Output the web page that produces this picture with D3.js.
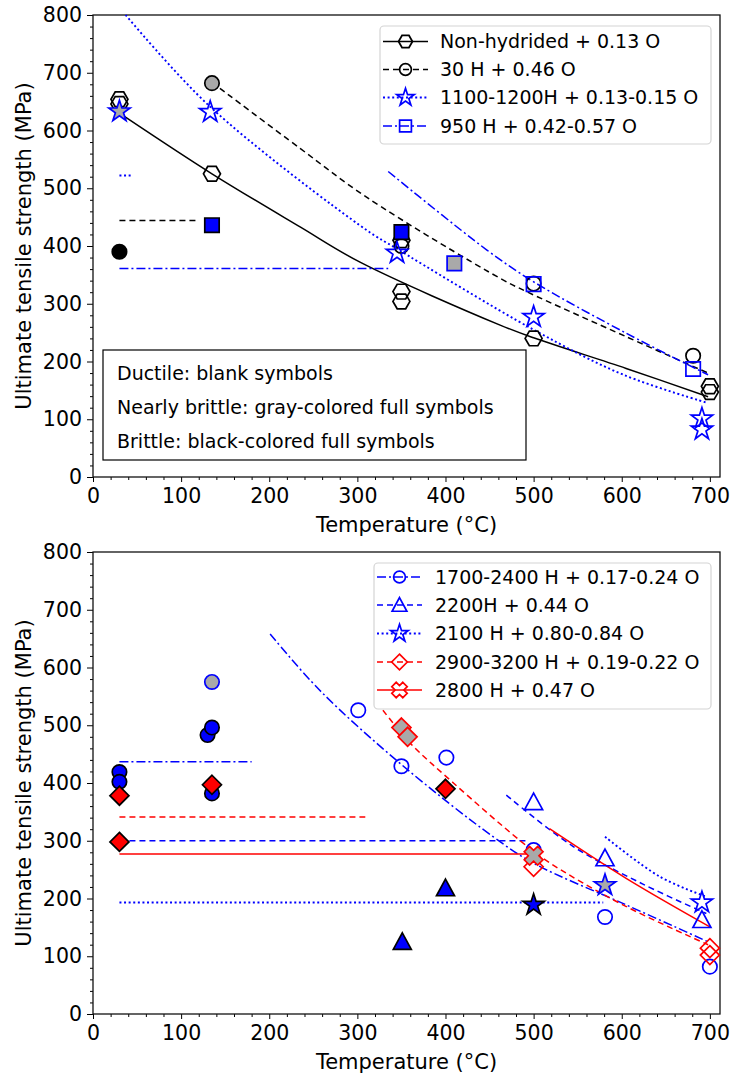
<!DOCTYPE html>
<html><head><meta charset="utf-8">
<script src="https://cdn.jsdelivr.net/npm/d3@7"></script>
<style>body{margin:0;background:#fff}svg{display:block}text{font-family:"DejaVu Sans",sans-serif;fill:#000}</style>
</head><body><svg id="c" width="730" height="1077"></svg>
<script>
// ---------------- DATA ----------------
const xTicks = [0,100,200,300,400,500,600,700];
const yTicks = [0,100,200,300,400,500,600,700,800];
const xLabel = "Temperature (°C)";
const yLabel = "Ultimate tensile strength (MPa)";

// Top panel
const topNames = ["Non-hydrided + 0.13 O","30 H + 0.46 O","1100-1200H + 0.13-0.15 O","950 H + 0.42-0.57 O"];
const nhT = [30,30,135,350,350,350,500,700,700];
const nhV = [654,646,525,410,321,304,240,157,147];
const nhState = ["d","d","d","d","d","d","d","d","d"];
const nhFitT = [36,135,235,303,462,500,605,698];
const nhFitV = [624,525,433,372,263,241,188,139];

const h30T = [30,135,350,500,681];
const h30V = [390,682,400,335,210];
const h30State = ["b","n","d","d","d"];
const h30FitT = [144,235,310,462,492,605,698];
const h30FitV = [673,569,485,344,321,243,180];
const h30Thr = [444,118];

const h1100T = [30,133,345,500,691,691];
const h1100V = [633,632,388,277,101,82];
const h1100State = ["n","d","d","d","d","d"];
const h1100FitT = [37,133,310,344,500,602,698];
const h1100FitV = [800,641,428,396,255,177,128];
const h1100Thr = [522,44];

const h950T = [135,350,410,500,681];
const h950V = [436,424,370,334,187];
const h950State = ["b","b","n","d","d"];
const h950FitT = [335,447,500,605,698];
const h950FitV = [529,393,338,249,177];
const h950Thr = [361,335];

const noteLines = ["Ductile: blank symbols","Nearly brittle: gray-colored full symbols","Brittle: black-colored full symbols"];

// Bottom panel
const botNames = ["1700-2400 H + 0.17-0.24 O","2200H + 0.44 O","2100 H + 0.80-0.84 O","2900-3200 H + 0.19-0.22 O","2800 H + 0.47 O"];
const h1700T = [30,30,130,135,135,135,301,350,401,500,581,700];
const h1700V = [419,402,483,496,575,382,526,429,444,284,168,82];
const h1700State = ["b","b","b","b","n","b","d","d","d","d","d","d"];
const h1700FitT = [201,257,350,454,500,605,698];
const h1700FitV = [658,561,432,307,261,189,125];
const h1700Thr = [437,180];

const h2200T = [351,400,500,581,691];
const h2200V = [125,218,367,270,163];
const h2200State = ["b","b","d","d","d"];
const h2200FitT = [469,545,624,696];
const h2200FitV = [379,290,225,174];
const h2200Thr = [300,492];

const h2100T = [500,581,691];
const h2100V = [189,223,193];
const h2100State = ["b","n","d"];
const h2100FitT = [581,643,696];
const h2100FitV = [307,238,203];
const h2100Thr = [193,579];

const h2900T = [30,30,135,350,357,400,500,700,700];
const h2900V = [378,298,397,496,480,390,255,114,102];
const h2900State = ["b","b","b","n","n","b","d","d","d"];
const h2900FitT = [329,360,409,484,515,600,698];
const h2900FitV = [526,469,400,301,265,190,120];
const h2900Thr = [341,309];

const h2800T = [500];
const h2800V = [274];
const h2800State = ["n"];
const h2800FitT = [518,605,700];
const h2800FitV = [321,235,151];
const h2800Thr = [277,492];

// ---------------- STYLE / LAYOUT ----------------
const BLUE="#0000ff", RED="#ff0000", BLACK="#000000", GRAY="#a9a9a9";
const DASH = {solid:null, dashed:"6,4", dotted:"2,2.6", dashdot:"9,3,2,3"};
const WIDTH = {solid:1.5, dashed:1.5, dotted:1.9, dashdot:1.5};
const mk = (name,color,marker,dash,T,V,S,fT,fV,thr)=>({name,color,marker,dash,T,V,S,fT,fV,thr});
const topSeries = [
  mk(topNames[0],BLACK,"hex","solid",nhT,nhV,nhState,nhFitT,nhFitV,null),
  mk(topNames[1],BLACK,"circle","dashed",h30T,h30V,h30State,h30FitT,h30FitV,h30Thr),
  mk(topNames[2],BLUE,"star","dotted",h1100T,h1100V,h1100State,h1100FitT,h1100FitV,h1100Thr),
  mk(topNames[3],BLUE,"square","dashdot",h950T,h950V,h950State,h950FitT,h950FitV,h950Thr)
];
const botSeries = [
  mk(botNames[0],BLUE,"circle","dashdot",h1700T,h1700V,h1700State,h1700FitT,h1700FitV,h1700Thr),
  mk(botNames[1],BLUE,"tri","dashed",h2200T,h2200V,h2200State,h2200FitT,h2200FitV,h2200Thr),
  mk(botNames[2],BLUE,"star","dotted",h2100T,h2100V,h2100State,h2100FitT,h2100FitV,h2100Thr),
  mk(botNames[3],RED,"diamond","dashed",h2900T,h2900V,h2900State,h2900FitT,h2900FitV,h2900Thr),
  mk(botNames[4],RED,"X","solid",h2800T,h2800V,h2800State,h2800FitT,h2800FitV,h2800Thr)
];

const x = d3.scaleLinear().domain([0,711.5]).range([93,720]);
const yTop = d3.scaleLinear().domain([0,800]).range([477,15]);
const yBot = d3.scaleLinear().domain([0,800]).range([1014,552]);

const svg = d3.select("#c");

function markerPath(type, r){
  const p = [];
  if(type==="hex"){ for(let i=0;i<6;i++){const a=i*Math.PI/3;p.push([r*Math.cos(a),r*Math.sin(a)]);} }
  else if(type==="star"){ for(let i=0;i<10;i++){const a=-Math.PI/2+i*Math.PI/5;const rr=i%2?r*0.382:r;p.push([rr*Math.cos(a),rr*Math.sin(a)]);} }
  else if(type==="square"){ p.push([-r,-r],[r,-r],[r,r],[-r,r]); }
  else if(type==="diamond"){ p.push([0,-r],[r,0],[0,r],[-r,0]); }
  else if(type==="tri"){ p.push([0,-r],[r,r*0.85],[-r,r*0.85]); }
  else if(type==="X"){
    const b=[[-0.8,-2],[0.8,-2],[0.8,-0.8],[2,-0.8],[2,0.8],[0.8,0.8],[0.8,2],[-0.8,2],[-0.8,0.8],[-2,0.8],[-2,-0.8],[-0.8,-0.8]];
    const c=Math.SQRT1_2;
    b.forEach(([u,v])=>{u*=r/2;v*=r/2;p.push([u*c-v*c,u*c+v*c]);});
  }
  else { // circle
    return `M${r},0A${r},${r},0,1,1,${-r},0A${r},${r},0,1,1,${r},0Z`;
  }
  return "M"+p.map(q=>q[0].toFixed(2)+","+q[1].toFixed(2)).join("L")+"Z";
}
const SIZE = {hex:8.5, circle:7.2, star:11.2, square:7.2, diamond:9.5, tri:9, X:9.5};

function drawMarker(g, type, cx, cy, color, state, scale){
  const r = SIZE[type]*(scale||1);
  let fill="none", stroke=color;
  if(state==="n"){fill=GRAY;}
  if(state==="b"){fill=color;stroke=BLACK;}
  g.append("path").attr("d",markerPath(type,r)).attr("transform",`translate(${cx},${cy})`)
   .attr("fill",fill).attr("stroke",stroke).attr("stroke-width",1.7).attr("stroke-linejoin","miter");
}

function drawPanel(yS, series, legendBox, legendRows, legendLineX, textX){
  const bottom = yS.range()[0], top = yS.range()[1];
  const g = svg.append("g");
  const ax = g.append("g").attr("transform",`translate(0,${bottom})`)
    .call(d3.axisBottom(x).tickValues(xTicks).tickSize(5).tickPadding(6).tickFormat(d3.format("d")));
  const axm = g.append("g").attr("transform",`translate(0,${bottom})`)
    .call(d3.axisBottom(x).tickValues(d3.range(0,701,20).filter(v=>v%100)).tickSize(3).tickFormat(""));
  const ay = g.append("g").attr("transform",`translate(93,0)`)
    .call(d3.axisLeft(yS).tickValues(yTicks).tickSize(6).tickPadding(5).tickFormat(d3.format("d")));
  const aym = g.append("g").attr("transform",`translate(93,0)`)
    .call(d3.axisLeft(yS).tickValues(d3.range(0,801,20).filter(v=>v%100)).tickSize(3).tickFormat(""));
  [ax,axm,ay,aym].forEach(a=>{a.select(".domain").remove();a.selectAll("line").attr("stroke","#000").attr("stroke-width",1);});
  [ax,ay].forEach(a=>a.selectAll("text").style("font-size","20.5px").attr("fill","#000"));
  ax.selectAll("text").attr("dy","0.71em");
  g.append("rect").attr("x",93).attr("y",top).attr("width",720-93).attr("height",bottom-top)
    .attr("fill","none").attr("stroke","#111").attr("stroke-width",1.3);
  g.append("text").attr("x",(93+720)/2).attr("y",bottom+55).attr("text-anchor","middle")
    .style("font-size","21px").text(xLabel);
  g.append("text").attr("transform",`translate(31,${(top+bottom)/2}) rotate(-90)`).attr("text-anchor","middle")
    .style("font-size","21px").text(yLabel);

  const plot = g.append("g");
  const line = d3.line().x(d=>x(d[0])).y(d=>yS(d[1])).curve(d3.curveCatmullRom.alpha(0.5));
  series.forEach(s=>{
    if(s.thr){
      plot.append("path").attr("d",line([[30,s.thr[0]],[s.thr[1],s.thr[0]]]))
        .attr("fill","none").attr("stroke",s.color).attr("stroke-width",WIDTH[s.dash]).attr("stroke-dasharray",DASH[s.dash]);
    }
    plot.append("path").attr("d",line(d3.zip(s.fT,s.fV)))
      .attr("fill","none").attr("stroke",s.color).attr("stroke-width",WIDTH[s.dash]).attr("stroke-dasharray",DASH[s.dash]);
  });
  series.forEach(s=>{
    s.T.forEach((t,i)=>drawMarker(plot,s.marker,x(t),yS(s.V[i]),s.color,s.S[i],1));
  });
  const lg = g.append("g");
  lg.append("rect").attr("x",legendBox[0]).attr("y",legendBox[1]).attr("width",legendBox[2]).attr("height",legendBox[3])
    .attr("rx",4).attr("fill","#fff").attr("fill-opacity",0.85).attr("stroke","#d4d4d4").attr("stroke-width",1.2);
  series.forEach((s,i)=>{
    const yy = legendRows[i];
    lg.append("line").attr("x1",legendLineX[0]).attr("x2",legendLineX[1]).attr("y1",yy).attr("y2",yy)
      .attr("stroke",s.color).attr("stroke-width",WIDTH[s.dash]).attr("stroke-dasharray",DASH[s.dash]);
    drawMarker(lg,s.marker,(legendLineX[0]+legendLineX[1])/2,yy,s.color,"d",0.82);
    lg.append("text").attr("x",textX).attr("y",yy).attr("dy","0.36em").style("font-size","19px").text(s.name);
  });
  return g;
}

drawPanel(yTop, topSeries, [380,26,331,118], [41.5,69.5,97.5,126], [383,428], 440);
drawPanel(yBot, botSeries, [374,563,337,146], [577,605,633.5,662,690], [377,422], 435);

const nb = svg.append("g");
nb.append("rect").attr("x",103).attr("y",350).attr("width",423).attr("height",110)
  .attr("fill","#fff").attr("stroke","#000").attr("stroke-width",1.2);
noteLines.forEach((t,i)=>nb.append("text").attr("x",117).attr("y",373+i*34).attr("dy","0.36em")
  .style("font-size","19px").text(t));
</script></body></html>
